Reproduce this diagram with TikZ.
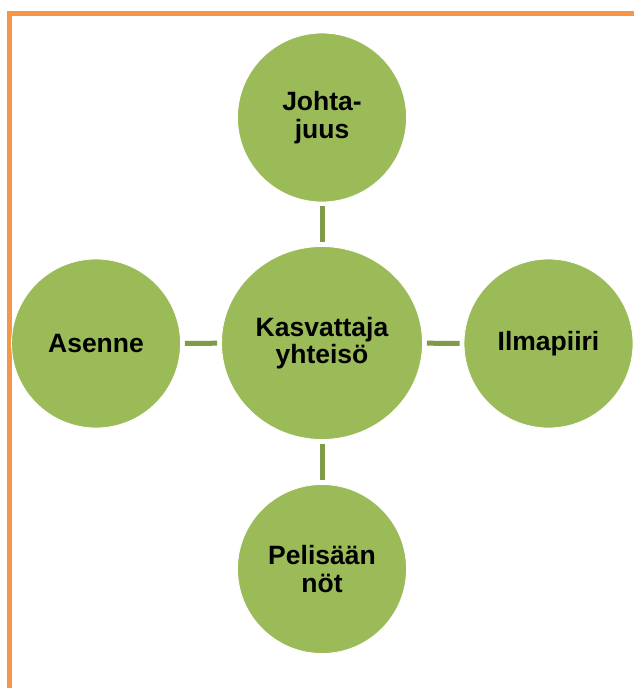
\documentclass[tikz,border=0pt]{standalone}
\usepackage{fontspec}
\setmainfont{Liberation Sans}
\usetikzlibrary{shapes.geometric}
\definecolor{leaf}{HTML}{9BBB59}
\definecolor{stem}{HTML}{7F9A48}
\definecolor{frameorange}{HTML}{F79646}
\begin{document}
\begin{tikzpicture}[x=1pt,y=-1pt,
  bubble/.style={circle, fill=leaf, draw=white, line width=0.8pt,
    minimum size=169pt, inner sep=0pt, align=center,
    font=\fontsize{26.5}{27.5}\selectfont\bfseries},
  hub/.style={bubble, ellipse, minimum width=201pt, minimum height=193pt},
  link/.style={draw=stem, line width=5pt, shorten >=4pt, shorten <=4pt}]
\useasboundingbox (0,0) rectangle (634,688);
% page frame: left and top rule
\draw[frameorange, line width=5pt] (9.5,688) -- (9.5,13.5) -- (634,13.5);
% nodes
\node[hub]    (hub)   at (322,343)   {Kasvattaja\\yhteisö};
\node[bubble] (top)   at (322,117.5) {Johta-\\juus};
\node[bubble] (left)  at (96,343.5)  {Asenne};
\node[bubble] (right) at (548.5,343.5) {Ilmapiiri};
\node[bubble] (down)  at (322,569)   {Pelisään\\nöt};
% connectors
\draw[link] (hub) -- (top);
\draw[link] (hub) -- (left);
\draw[link] (hub) -- (right);
\draw[link] (hub) -- (down);
\end{tikzpicture}
\end{document}
